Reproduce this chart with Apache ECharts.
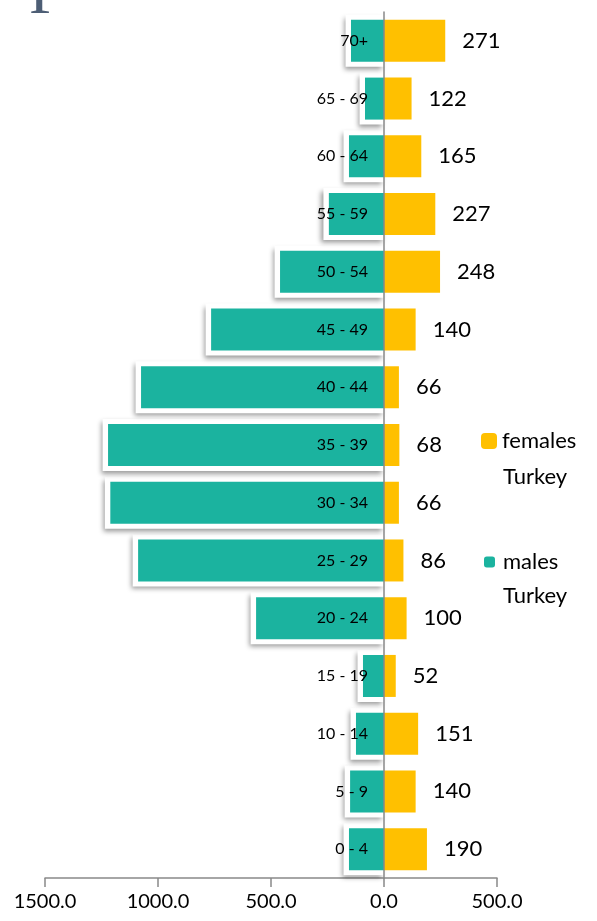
<!DOCTYPE html>
<html>
<head>
<meta charset="utf-8">
<script src="https://cdn.jsdelivr.net/npm/echarts@6/dist/echarts.min.js"></script>
<style>
  html, body { margin: 0; padding: 0; background: #fff; }
  #chart { width: 597px; height: 921px; }
</style>
</head>
<body>
<div id="chart"></div>
<script>
// age groups, bottom to top
const ageGroups = ['0 - 4', '5 - 9', '10 - 14', '15 - 19', '20 - 24', '25 - 29', '30 - 34',
  '35 - 39', '40 - 44', '45 - 49', '50 - 54', '55 - 59', '60 - 64', '65 - 69', '70+']
const males = [155, 150, 124, 93, 566, 1088, 1211, 1221, 1075, 765, 460, 244, 155, 84, 146]
const females = [190, 140, 151, 52, 100, 86, 66, 68, 66, 140, 248, 227, 165, 122, 271]
const xTicks = [-1500, -1000, -500, 0, 500]
const framePad = 24 // white margin round the male bars, in axis units

const font = 'Lato'
const chart = echarts.init(document.getElementById('chart'))

chart.setOption({
  animation: false,
  textStyle: { fontFamily: font },
  grid: { left: 45, right: 100, top: 12, bottom: 43, outerBoundsMode: 'none', containLabel: false },
  legend: [
    {
      data: ['females'],
      orient: 'vertical',
      left: 481, top: 430,
      padding: 0,
      itemWidth: 16, itemHeight: 16,
      textStyle: { fontSize: 22, color: '#000', fontFamily: font }
    },
    {
      data: ['males'],
      orient: 'vertical',
      left: 484, top: 551,
      padding: 0,
      itemWidth: 11, itemHeight: 11,
      textStyle: { fontSize: 22, color: '#000', fontFamily: font, padding: [0, 0, 0, 3] }
    }
  ],
  graphic: [
    { type: 'text', left: 503, top: 466, style: { text: 'Turkey', fontSize: 22, fill: '#000', fontFamily: font } },
    { type: 'text', left: 503, top: 585, style: { text: 'Turkey', fontSize: 22, fill: '#000', fontFamily: font } },
    // cut-off title at the top
    { type: 'text', left: 29, top: -36, style: { text: 'P', fontSize: 64, fill: '#4d5e75', fontFamily: 'Liberation Serif' } }
  ],
  xAxis: {
    type: 'value',
    min: -1500,
    max: 500,
    interval: 500,
    splitLine: { show: false },
    axisLine: { show: true, lineStyle: { color: '#898989', width: 1.5 } },
    axisTick: { show: true, length: 9, lineStyle: { color: '#898989', width: 1.5 } },
    axisLabel: {
      color: '#000',
      fontSize: 20,
      margin: 14,
      formatter: v => xTicks.includes(v) ? Math.abs(v).toFixed(1) : ''
    }
  },
  yAxis: [
    {
      type: 'category',
      data: ageGroups,
      z: 10,
      axisLine: { onZero: true, lineStyle: { color: '#898989', width: 1.5 } },
      axisTick: { show: false },
      axisLabel: { show: false }
    },
    {
      // hidden twin axis so the white frames can sit under the male bars
      type: 'category',
      gridIndex: 0,
      data: ageGroups,
      axisLine: { show: false },
      axisTick: { show: false },
      axisLabel: { show: false },
      splitLine: { show: false }
    }
  ],
  series: [
    {
      name: 'males frame',
      type: 'bar',
      yAxisIndex: 1,
      barWidth: 52,
      z: 1,
      silent: true,
      data: males.map(v => -(v + framePad)),
      itemStyle: {
        color: '#fff',
        shadowColor: 'rgba(0,0,0,0.4)',
        shadowBlur: 5,
        shadowOffsetX: -2,
        shadowOffsetY: 3
      }
    },
    {
      name: 'males',
      type: 'bar',
      stack: 'total',
      barWidth: 42,
      z: 3,
      data: males.map(v => -v),
      itemStyle: { color: '#1bb39f' },
      // age group names sit at the inner end of the male bars
      label: {
        show: true,
        position: 'insideRight',
        distance: 16,
        formatter: '{b}',
        color: '#000',
        textBorderWidth: 0,
        fontSize: 16,
        fontFamily: font
      }
    },
    {
      name: 'females',
      type: 'bar',
      stack: 'total',
      barWidth: 48,
      z: 3,
      data: females,
      itemStyle: { color: '#ffc000' },
      label: {
        show: true,
        position: 'right',
        distance: 17,
        color: '#000',
        fontSize: 22,
        fontFamily: font
      }
    }
  ]
})
</script>
</body>
</html>
